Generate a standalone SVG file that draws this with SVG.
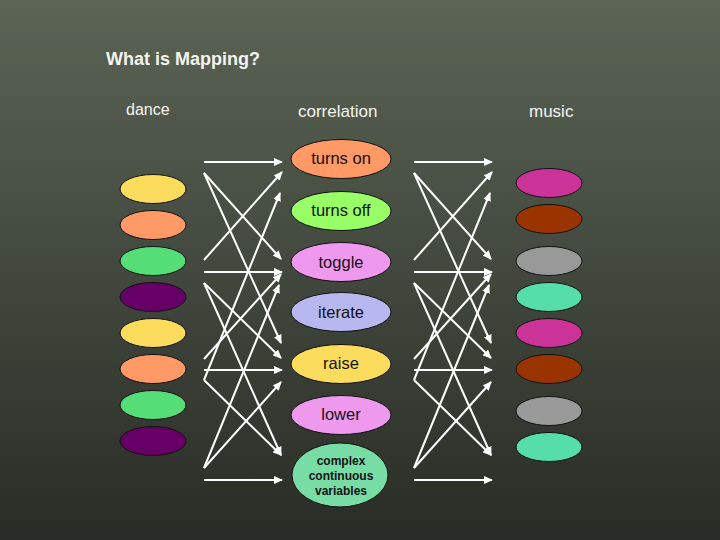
<svg xmlns="http://www.w3.org/2000/svg" width="720" height="540" viewBox="0 0 720 540">
<defs>
<linearGradient id="bg" x1="0" y1="0" x2="0" y2="1">
<stop offset="0" stop-color="#5b6455"/>
<stop offset="1" stop-color="#292c26"/>
</linearGradient>
<marker id="ah" markerWidth="9" markerHeight="8" refX="8" refY="4" orient="auto" markerUnits="userSpaceOnUse">
<path d="M0,0 L9,4 L0,8 Z" fill="#ffffff"/>
</marker>
</defs>
<style>
.lbl{font-family:"Liberation Sans",Arial,sans-serif;fill:#f4f4ee}
.title{font-size:18px;font-weight:bold}
.hdr{font-size:17px}
.cn{stroke:#ffffff;stroke-width:2;fill:none;marker-end:url(#ah)}
.el{stroke:#111;stroke-width:1}
.ct{font-family:"Liberation Sans",Arial,sans-serif;font-size:16.5px;fill:#141014;text-anchor:middle}
.cs{font-family:"Liberation Sans",Arial,sans-serif;font-size:12px;font-weight:bold;fill:#141014;text-anchor:middle}
</style>
<rect width="720" height="540" fill="url(#bg)"/>
<g id="titles">
<text class="lbl title" x="106" y="65">What is Mapping?</text>
<text class="lbl hdr" x="126" y="115" style="font-size:16px">dance</text>
<text class="lbl hdr" x="298" y="117">correlation</text>
<text class="lbl hdr" x="529" y="117">music</text>
</g>
<g id="connectors">
<g id="mesh-left">
<line class="cn" x1="204" y1="162" x2="282" y2="162"/>
<line class="cn" x1="204" y1="173" x2="281" y2="259"/>
<line class="cn" x1="204" y1="173" x2="281" y2="343"/>
<line class="cn" x1="204" y1="260" x2="282" y2="172"/>
<line class="cn" x1="204" y1="272" x2="282" y2="272"/>
<line class="cn" x1="204" y1="283" x2="281" y2="358"/>
<line class="cn" x1="204" y1="283" x2="281" y2="455"/>
<line class="cn" x1="204" y1="359" x2="281" y2="274"/>
<line class="cn" x1="204" y1="370" x2="282" y2="370"/>
<line class="cn" x1="204" y1="380" x2="280" y2="193"/>
<line class="cn" x1="204" y1="380" x2="281" y2="455"/>
<line class="cn" x1="204" y1="468" x2="281" y2="382"/>
<line class="cn" x1="204" y1="468" x2="279" y2="285"/>
<line class="cn" x1="204" y1="480" x2="282" y2="480"/>
</g>
<g id="mesh-right" transform="translate(210,0)">
<line class="cn" x1="204" y1="162" x2="282" y2="162"/>
<line class="cn" x1="204" y1="173" x2="281" y2="259"/>
<line class="cn" x1="204" y1="173" x2="281" y2="343"/>
<line class="cn" x1="204" y1="260" x2="282" y2="172"/>
<line class="cn" x1="204" y1="272" x2="282" y2="272"/>
<line class="cn" x1="204" y1="283" x2="281" y2="358"/>
<line class="cn" x1="204" y1="283" x2="281" y2="455"/>
<line class="cn" x1="204" y1="359" x2="281" y2="274"/>
<line class="cn" x1="204" y1="370" x2="282" y2="370"/>
<line class="cn" x1="204" y1="380" x2="280" y2="193"/>
<line class="cn" x1="204" y1="380" x2="281" y2="455"/>
<line class="cn" x1="204" y1="468" x2="281" y2="382"/>
<line class="cn" x1="204" y1="468" x2="279" y2="285"/>
<line class="cn" x1="204" y1="480" x2="282" y2="480"/>
</g>
</g>
<g id="dance">
<ellipse id="d1" class="el" cx="153" cy="189" rx="33" ry="14.5" fill="#fbdc5c"/>
<ellipse id="d2" class="el" cx="153" cy="225" rx="33" ry="14.5" fill="#ff9966"/>
<ellipse id="d3" class="el" cx="153" cy="261" rx="33" ry="14.5" fill="#55dd77"/>
<ellipse id="d4" class="el" cx="153" cy="297" rx="33" ry="14.5" fill="#660066"/>
<ellipse id="d5" class="el" cx="153" cy="333" rx="33" ry="14.5" fill="#fbdc5c"/>
<ellipse id="d6" class="el" cx="153" cy="369" rx="33" ry="14.5" fill="#ff9966"/>
<ellipse id="d7" class="el" cx="153" cy="405" rx="33" ry="14.5" fill="#55dd77"/>
<ellipse id="d8" class="el" cx="153" cy="441" rx="33" ry="14.5" fill="#660066"/>
</g>
<g id="music">
<ellipse id="m1" class="el" cx="549" cy="183" rx="33" ry="14.5" fill="#cc3399"/>
<ellipse id="m2" class="el" cx="549" cy="219" rx="33" ry="14.5" fill="#993300"/>
<ellipse id="m3" class="el" cx="549" cy="261" rx="33" ry="14.5" fill="#999999"/>
<ellipse id="m4" class="el" cx="549" cy="297" rx="33" ry="14.5" fill="#55ddaa"/>
<ellipse id="m5" class="el" cx="549" cy="333" rx="33" ry="14.5" fill="#cc3399"/>
<ellipse id="m6" class="el" cx="549" cy="369" rx="33" ry="14.5" fill="#993300"/>
<ellipse id="m7" class="el" cx="549" cy="411" rx="33" ry="14.5" fill="#999999"/>
<ellipse id="m8" class="el" cx="549" cy="447" rx="33" ry="14.5" fill="#55ddaa"/>
</g>
<g id="c-turns-on">
<ellipse class="el" cx="341" cy="159" rx="50" ry="19.5" fill="#ff9966"/>
<text class="ct" x="341" y="164">turns on</text>
</g>
<g id="c-turns-off">
<ellipse class="el" cx="341" cy="211" rx="50" ry="19.5" fill="#99ff66"/>
<text class="ct" x="341" y="216">turns off</text>
</g>
<g id="c-toggle">
<ellipse class="el" cx="341" cy="262" rx="50" ry="19.5" fill="#ee99ee"/>
<text class="ct" x="341" y="268">toggle</text>
</g>
<g id="c-iterate">
<ellipse class="el" cx="341" cy="312" rx="50" ry="19.5" fill="#b8b8f0"/>
<text class="ct" x="341" y="318">iterate</text>
</g>
<g id="c-raise">
<ellipse class="el" cx="341" cy="364" rx="50" ry="19.5" fill="#fbdc5c"/>
<text class="ct" x="341" y="369">raise</text>
</g>
<g id="c-lower">
<ellipse class="el" cx="341" cy="415" rx="50" ry="19.5" fill="#ee99ee"/>
<text class="ct" x="341" y="420">lower</text>
</g>
<g id="c-complex">
<ellipse class="el" cx="340" cy="475" rx="48" ry="32" fill="#77dda5"/>
<text class="cs" x="341" y="465">complex</text>
<text class="cs" x="341" y="480">continuous</text>
<text class="cs" x="341" y="495">variables</text>
</g>
</svg>
